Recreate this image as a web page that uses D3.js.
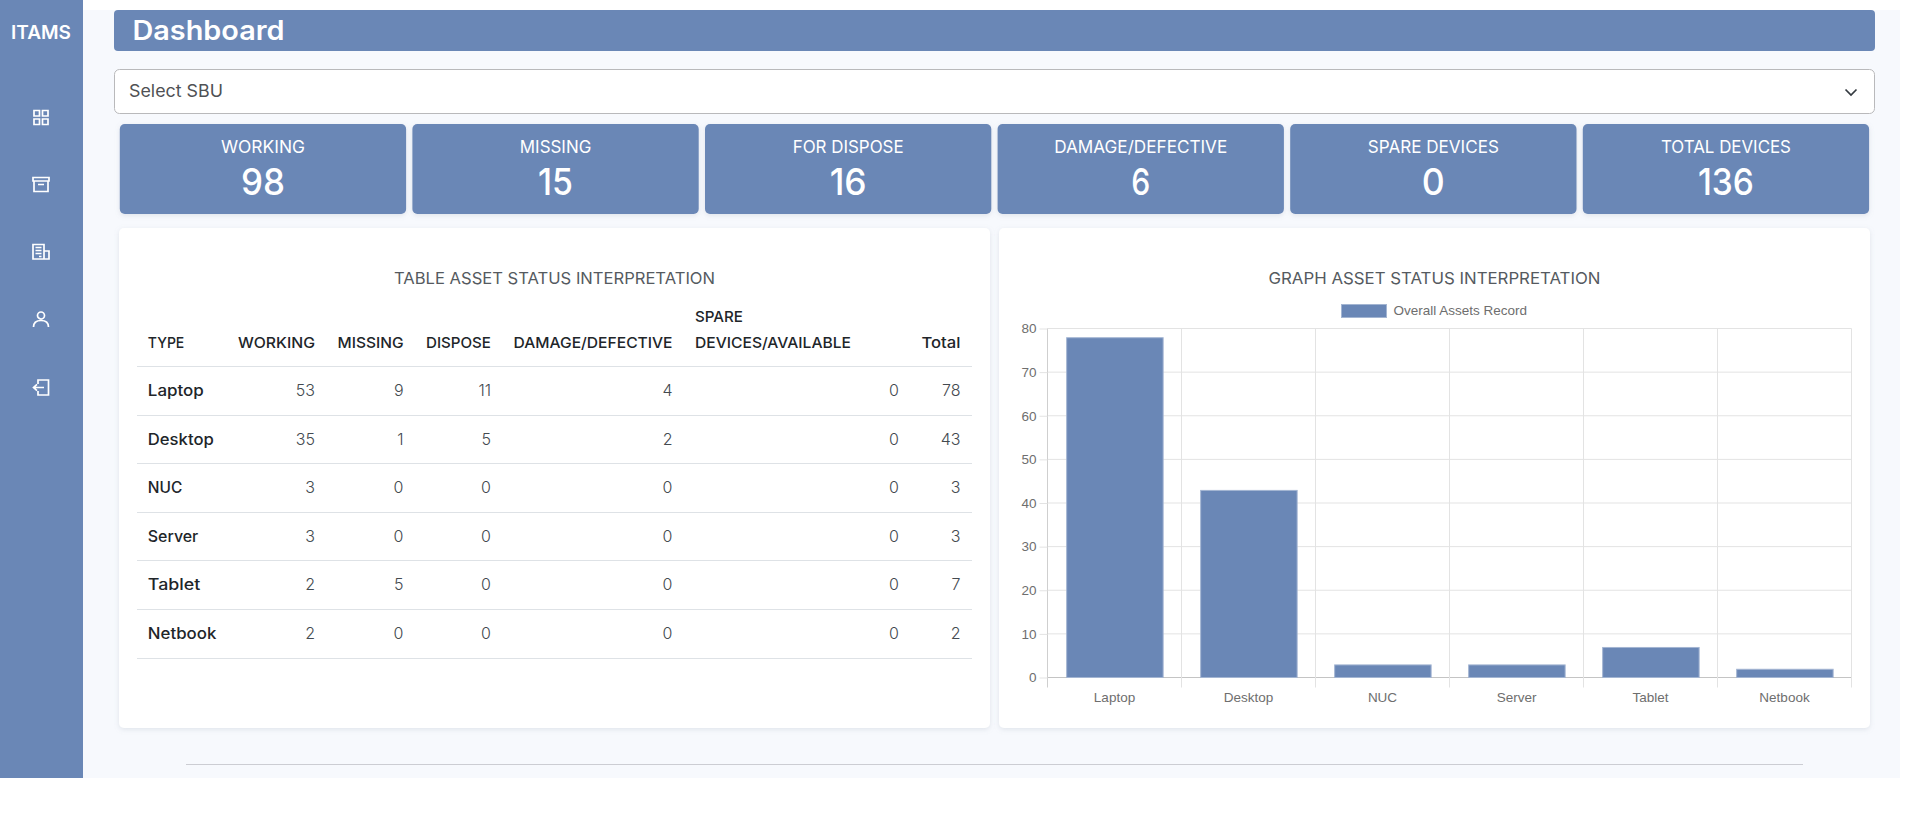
<!DOCTYPE html>
<html>
<head>
<meta charset="utf-8">
<title>ITAMS Dashboard</title>
<script src="https://cdn.jsdelivr.net/npm/d3@7/dist/d3.min.js"></script>
<style>
html,body{margin:0;padding:0;background:#fff;overflow:hidden}
svg{display:block}
text{font-family:Inter,"Noto Sans",sans-serif}
.chart text{font-family:"Liberation Sans",Arial,sans-serif;font-size:13.5px;fill:#6e6e6e}
</style>
</head>
<body>
<svg id="page" width="1913" height="832" viewBox="0 0 1913 832"></svg>
<script>
// ---------- data ----------
const summaryLabels = ["WORKING","MISSING","FOR DISPOSE","DAMAGE/DEFECTIVE","SPARE DEVICES","TOTAL DEVICES"];
const summaryValues = [98,15,16,6,0,136];
const tableTitle = "TABLE ASSET STATUS INTERPRETATION";
const chartTitle = "GRAPH ASSET STATUS INTERPRETATION";
const seriesName = "Overall Assets Record";
const types    = ["Laptop","Desktop","NUC","Server","Tablet","Netbook"];
const working  = [53,35,3,3,2,2];
const missing  = [9,1,0,0,5,0];
const dispose  = [11,5,0,0,0,0];
const damage   = [4,2,0,0,0,0];
const spare    = [0,0,0,0,0,0];
const totals   = [78,43,3,3,7,2];
const yTicks   = [0,10,20,30,40,50,60,70,80];

// ---------- style / layout ----------
const BLUE="#6a87b6", BG="#f7f9fd", INK="#212529", SOFT="#555a60", LINE="#dee2e6";
const svg=d3.select("#page");
svg.append("defs").append("filter").attr("id","sh").attr("x","-5%").attr("y","-5%").attr("width","110%").attr("height","115%")
  .append("feDropShadow").attr("dx",0).attr("dy",1.5).attr("stdDeviation",2.5).attr("flood-color","#8a94a8").attr("flood-opacity",0.22);

function rect(x,y,w,h,fill,rx,extra){
  const r=svg.append("rect").attr("x",x).attr("y",y).attr("width",w).attr("height",h).attr("fill",fill).attr("rx",rx||0);
  if(extra==="sh") r.attr("filter","url(#sh)");
  return r;
}
function label(parent,str,x,y,size,weight,color,anchor,fitW){
  const t=parent.append("text").attr("x",x).attr("y",y).attr("font-size",size).attr("font-weight",weight)
    .attr("fill",color).attr("text-anchor",anchor||"start").text(str);
  if(fitW) t.attr("textLength",fitW).attr("lengthAdjust","spacingAndGlyphs");
  return t;
}

// page shell
rect(83,10,1817,768,BG);
rect(0,0,83,778,BLUE);
label(svg,"ITAMS",41,39,19,600,"#fff","middle",60);

// sidebar icons
const icons=[
 {y:117.5,d:"M-7-7h5.5v5.5h-5.5zM1.5-7h5.5v5.5h-5.5zM-7 1.5h5.5v5.5h-5.5zM1.5 1.5h5.5v5.5h-5.5z"},
 {y:184.5,d:"M-8-7h16v3.5h-16zM-7-3.5v10.5h14v-10.5M-3 0h6"},
 {y:252,d:"M-8-7.5h11v14.5h-11zM3-1h5v8h-5M-5.5-4.5h6M-5.5-1.5h6M-5.5 1.5h6M-2 4.5h2.5"},
 {y:319.5,d:"M-3.5-4a3.5 3.5 0 1 0 7 0a3.5 3.5 0 1 0-7 0M-7.5 7.5c0-4.5 3-6.5 7.5-6.5s7.5 2 7.5 6.5"},
 {y:387.5,d:"M-3-3.5v-4h10.5v15h-10.5v-4M3 0h-10M-4-3.2l-3.5 3.2l3.5 3.2"}
];
svg.append("g").selectAll("path").data(icons).join("path")
  .attr("transform",d=>`translate(41,${d.y})`).attr("d",d=>d.d)
  .attr("fill","none").attr("stroke","#fff").attr("stroke-width",1.7);

// header
rect(114,10,1761,41,BLUE,4);
label(svg,"Dashboard",132.5,40,27,600,"#fff","start",152);

// select
rect(114.5,69.5,1760,44,"#fff",5).attr("stroke","#b9b9bb").attr("stroke-width",1);
label(svg,"Select SBU",129,96.5,17,400,"#4f5154","start",94);
svg.append("path").attr("d","M1845.5 89.5l5.5 5.5l5.5-5.5").attr("fill","none").attr("stroke","#343a40").attr("stroke-width",1.7);

// summary cards
const cardX=d3.scaleBand().domain(summaryLabels).range([119.8,119.8+6*292.6]).paddingInner(0);
const cardW=286.3;
const cardLabelW=[84,71.5,111,173,131,130];
const cardValueW=[44,35,37,19,23,56];
const cards=svg.append("g").selectAll("g").data(summaryLabels).join("g").each(function(d,i){
  const g=d3.select(this), x=cardX(d);
  g.append("rect").attr("x",x).attr("y",124).attr("width",cardW).attr("height",90).attr("rx",5).attr("fill",BLUE).attr("filter","url(#sh)");
  label(g,d,x+cardW/2,152.5,17,400,"#fff","middle",cardLabelW[i]);
  label(g,summaryValues[i],x+cardW/2,195,37,500,"#fff","middle",cardValueW[i]);
});

// panels
rect(119,228,871,500,"#fff",5,"sh");
rect(999,228,871,500,"#fff",5,"sh");
label(svg,tableTitle,554.5,284,16.5,400,SOFT,"middle",321);
label(svg,chartTitle,1434.5,284,16.5,400,SOFT,"middle",332);

// ---------- table ----------
const tbl=svg.append("g");
const columns=[
 {h:"WORKING",r:315,w:77,v:working},
 {h:"MISSING",r:403.5,w:66,v:missing},
 {h:"DISPOSE",r:491,w:65,v:dispose},
 {h:"DAMAGE/DEFECTIVE",r:672.5,w:159,v:damage},
 {h:null,r:899,v:spare},
 {h:"Total",r:960.5,w:39,v:totals}
];
const rowLabelW=[56,66,34.5,50.5,52.5,68.5];
const rowY=d3.scalePoint().domain(types).range([396,638.5]);
const lineY=[366.5,415.5,463.5,512.5,560.5,609.5,658.5];
tbl.selectAll("line").data(lineY).join("line")
  .attr("x1",137).attr("x2",972).attr("y1",d=>d).attr("y2",d=>d)
  .attr("stroke",LINE).attr("stroke-width",1);
label(tbl,"TYPE",147.8,348,15,450,INK,"start",36.5);
label(tbl,"SPARE",695,322,15,450,INK,"start",48);
label(tbl,"DEVICES/AVAILABLE",695,348,15,450,INK,"start",156);
columns.forEach(c=>{
  if(c.h) label(tbl,c.h,c.r,348,15,450,INK,"end",c.w);
  types.forEach((t,i)=>label(tbl,c.v[i],c.r,rowY(t),16,300,"#444a50","end"));
});
types.forEach((t,i)=>label(tbl,t,147.8,rowY(t),15.5,450,INK,"start",rowLabelW[i]));

// ---------- chart ----------
const chart=svg.append("g").attr("class","chart");
const plot={l:1047.5,r:1851.5,t:328.5,b:677.5,tickB:687.5};
const x=d3.scaleBand().domain(types).range([plot.l,plot.r]);
const barW=x.bandwidth()*0.72;
const y=d3.scaleLinear().domain([0,80]).range([plot.b,plot.t]);

// grid
chart.append("g").selectAll("line").data(yTicks).join("line")
  .attr("x1",plot.l).attr("x2",plot.r).attr("y1",d=>y(d)).attr("y2",d=>y(d))
  .attr("stroke",d=>d===0?"#c4c4c4":"#e3e3e3");
const edges=types.map(t=>x(t)).concat(plot.r);
chart.append("g").selectAll("line").data(edges).join("line")
  .attr("x1",d=>d).attr("x2",d=>d).attr("y1",plot.t).attr("y2",plot.tickB)
  .attr("stroke",(d,i)=>i===0?"#cfcfcf":"#e3e3e3");

// axes
const yAxis=d3.axisLeft(y).tickValues(yTicks).tickSize(8).tickPadding(3);
const gy=chart.append("g").attr("transform",`translate(${plot.l},0)`).call(yAxis);
gy.select(".domain").remove();
gy.selectAll(".tick line").attr("stroke","#e3e3e3");
const xAxis=d3.axisBottom(x).tickSize(0).tickPadding(15);
const gx=chart.append("g").attr("transform",`translate(0,${plot.b})`).call(xAxis);
gx.select(".domain").remove();
chart.selectAll(".tick text").attr("font-size",null).attr("font-family",null).attr("fill",null);

// bars
chart.append("g").selectAll("rect").data(types.map((t,i)=>({t,v:totals[i]}))).join("rect")
  .attr("x",d=>x(d.t)+(x.bandwidth()-barW)/2+0.4)
  .attr("y",d=>y(d.v)+0.5)
  .attr("width",barW)
  .attr("height",d=>y(0)-y(d.v)-0.5)
  .attr("fill",BLUE)
  .attr("stroke","#a3b5d2").attr("stroke-width",1);

// legend
chart.append("rect").attr("x",1341.5).attr("y",304.5).attr("width",45).attr("height",13).attr("fill",BLUE).attr("stroke","#a3b5d2");
chart.append("text").attr("x",1393.5).attr("y",315).text(seriesName);

// footer rule
svg.append("line").attr("x1",186).attr("x2",1803).attr("y1",764.5).attr("y2",764.5).attr("stroke","#cccdd3");
</script>
</body>
</html>
